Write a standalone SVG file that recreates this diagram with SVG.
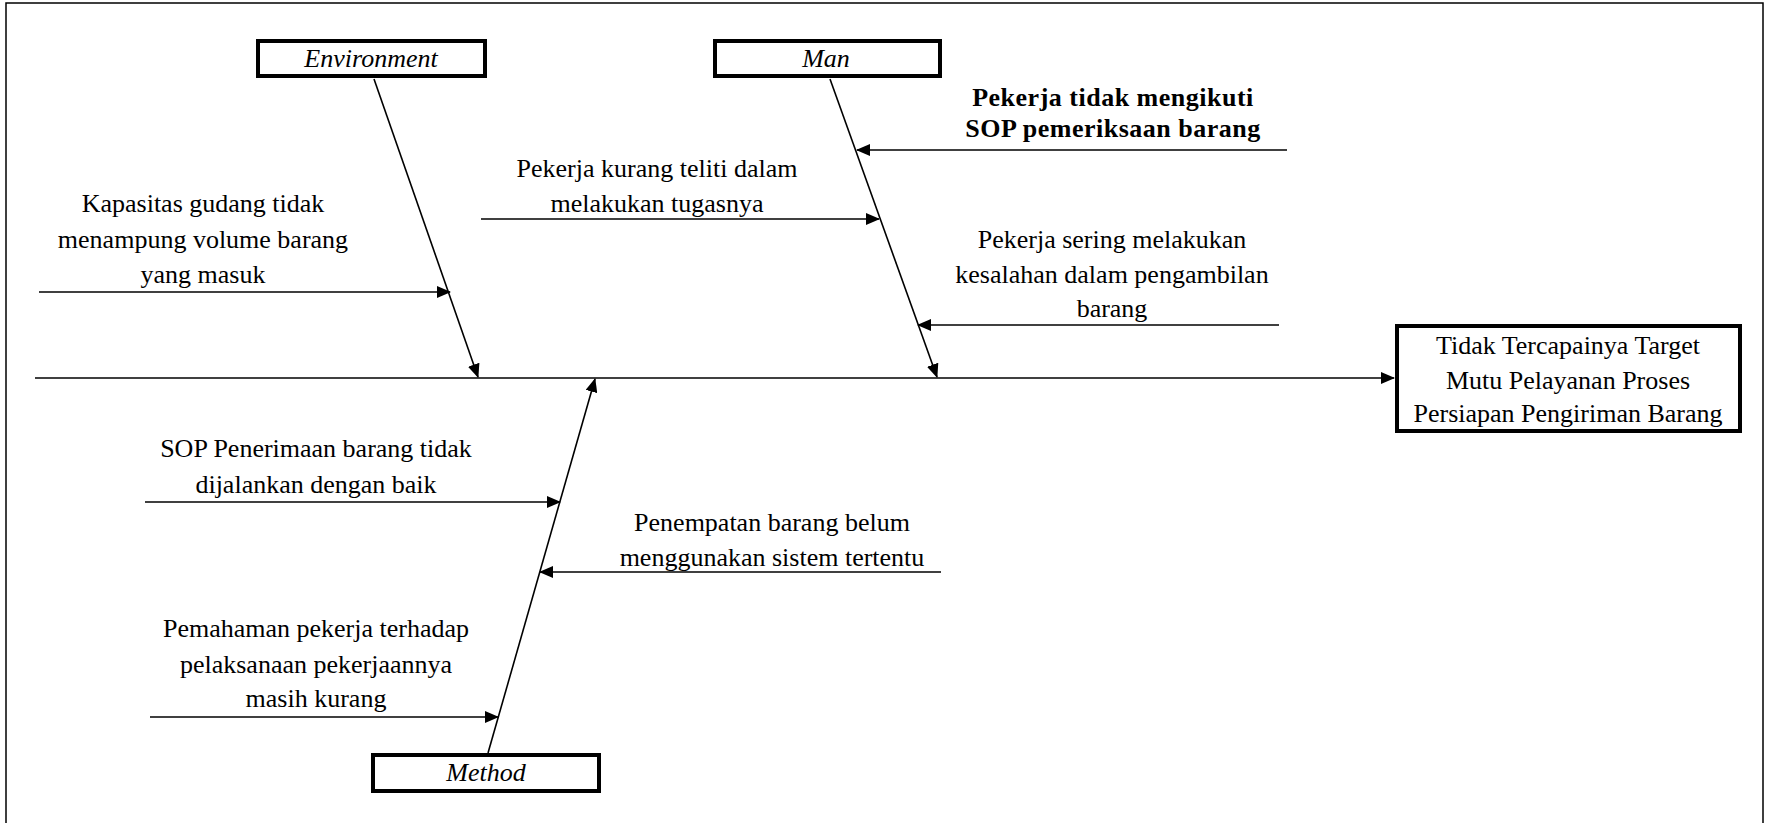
<svg xmlns="http://www.w3.org/2000/svg" width="1767" height="823" viewBox="0 0 1767 823">
<style>
text{font-family:"Liberation Serif","Times New Roman",serif;font-size:26px;fill:#000;text-anchor:middle}
.cat{font-style:italic}
.b{font-weight:bold;font-size:26px;letter-spacing:0.5px}
.box{fill:#fff;stroke:#000;stroke-width:4}
.ln{stroke:#000;stroke-width:1.6;fill:none}
.ar{stroke:#000;stroke-width:1.6;fill:none;marker-end:url(#ah)}
</style>
<defs>
<marker id="ah" markerUnits="userSpaceOnUse" markerWidth="14" markerHeight="12" refX="13" refY="6" orient="auto">
<path d="M0,0 L14,6 L0,12 z" fill="#000"/>
</marker>
</defs>
<rect width="1767" height="823" fill="#fff"/>
<path d="M6,823 V3 H1763 V823" fill="none" stroke="#000" stroke-width="1.5"/>
<g id="connectors">
<line class="ar" x1="35" y1="378" x2="1394" y2="378"/>
<line class="ar" x1="374" y1="79" x2="478" y2="377"/>
<line class="ar" x1="830" y1="79" x2="937" y2="377"/>
<line class="ar" x1="488" y1="753" x2="595" y2="379"/>
<line class="ar" x1="39" y1="292" x2="450" y2="292"/>
<line class="ar" x1="481" y1="219" x2="879" y2="219"/>
<line class="ar" x1="1287" y1="150" x2="857" y2="150"/>
<line class="ar" x1="1279" y1="325" x2="918" y2="325"/>
<line class="ar" x1="145" y1="502" x2="560" y2="502"/>
<line class="ar" x1="941" y1="572" x2="540" y2="572"/>
<line class="ar" x1="150" y1="717" x2="498" y2="717"/>
</g>
<g id="environment">
<rect class="box" x="258" y="41" width="227" height="35"/>
<text class="cat" x="371" y="67">Environment</text>
</g>
<g id="man">
<rect class="box" x="715" y="41" width="225" height="35"/>
<text class="cat" x="826" y="67">Man</text>
</g>
<g id="method">
<rect class="box" x="373" y="755" width="226" height="36"/>
<text class="cat" x="486" y="781">Method</text>
</g>
<g id="effect">
<rect class="box" x="1397" y="326" width="343" height="105"/>
<text x="1568" y="354">Tidak Tercapainya Target</text>
<text x="1568" y="389">Mutu Pelayanan Proses</text>
<text x="1568" y="422">Persiapan Pengiriman Barang</text>
</g>
<g id="cause-kapasitas">
<text x="203" y="212">Kapasitas gudang tidak</text>
<text x="203" y="248">menampung volume barang</text>
<text x="203" y="283">yang masuk</text>
</g>
<g id="cause-teliti">
<text x="657" y="177">Pekerja kurang teliti dalam</text>
<text x="657" y="212">melakukan tugasnya</text>
</g>
<g id="cause-sop-pemeriksaan">
<text class="b" x="1113" y="106">Pekerja tidak mengikuti</text>
<text class="b" x="1113" y="137">SOP pemeriksaan barang</text>
</g>
<g id="cause-sering">
<text x="1112" y="248">Pekerja sering melakukan</text>
<text x="1112" y="283">kesalahan dalam pengambilan</text>
<text x="1112" y="317">barang</text>
</g>
<g id="cause-sop-penerimaan">
<text x="316" y="457">SOP Penerimaan barang tidak</text>
<text x="316" y="493">dijalankan dengan baik</text>
</g>
<g id="cause-penempatan">
<text x="772" y="531">Penempatan barang belum</text>
<text x="772" y="566">menggunakan sistem tertentu</text>
</g>
<g id="cause-pemahaman">
<text x="316" y="637">Pemahaman pekerja terhadap</text>
<text x="316" y="673">pelaksanaan pekerjaannya</text>
<text x="316" y="707">masih kurang</text>
</g>
</svg>
